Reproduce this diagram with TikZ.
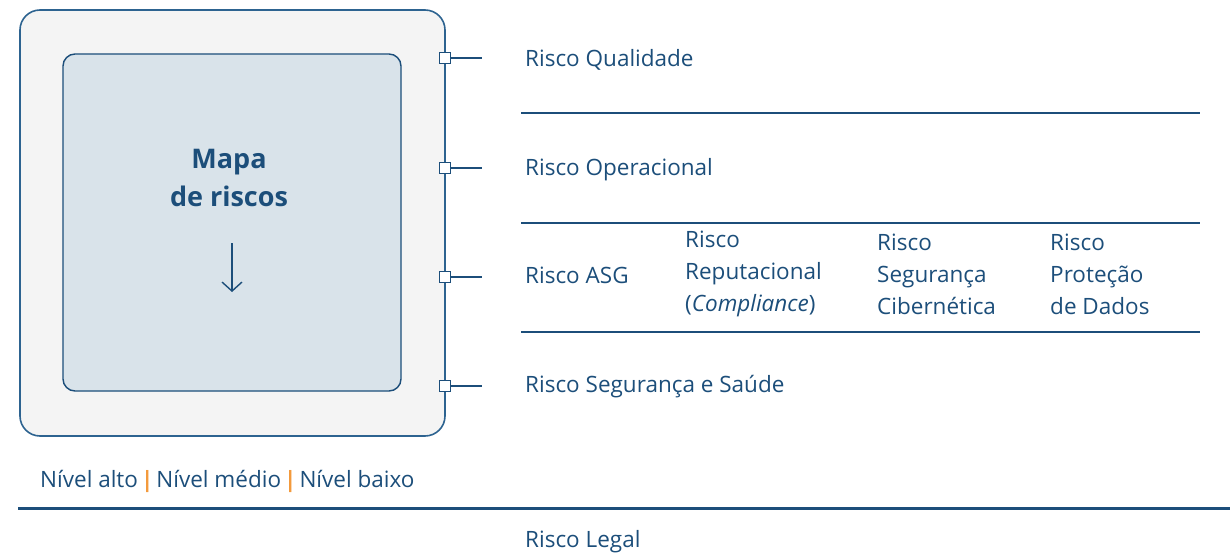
\documentclass[tikz,border=0pt]{standalone}
\usepackage{fontspec}
\setmainfont{Open Sans}
\usetikzlibrary{arrows.meta}
\definecolor{navy}{HTML}{1C4E7A}
\definecolor{edge}{HTML}{2D6390}
\definecolor{outerfill}{HTML}{F4F4F4}
\definecolor{innerfill}{HTML}{D9E3EA}
\definecolor{sep}{HTML}{F39A3C}
\tikzset{
  lbl/.style={anchor=west, inner sep=0pt, text=navy, font=\fontsize{22.5}{32}\selectfont, align=left},
  port/.style={draw=navy, fill=white, line width=1.4pt, minimum size=11pt, inner sep=0pt},
  rule/.style={draw=navy, line width=1.2pt},
  stub/.style={draw=navy, line width=1.4pt},
}
\begin{document}
\begin{tikzpicture}[x=1pt,y=-1pt]
\useasboundingbox (0,0) rectangle (1230,553);
% boxes
\node[draw=edge, line width=1.6pt, fill=outerfill, rounded corners=20pt, minimum width=425pt, minimum height=426pt, inner sep=0pt] (outer) at (232.5,223) {};
\node[draw=navy, line width=1.4pt, fill=innerfill, rounded corners=12pt, minimum width=338pt, minimum height=337pt, inner sep=0pt] (inner) at (232,222.5) {};
\node[text=navy, font=\bfseries\fontsize{27}{38}\selectfont, align=center, inner sep=0pt] (title) at (229,178) {Mapa\\de riscos};
\coordinate (atop) at (232,243);
\coordinate (abot) at (232,292);
\draw[navy, line width=1.4pt, -{Straight Barb[length=9pt,width=20pt,line width=1.4pt]}] (atop) -- (abot);
% ports
\foreach \n/\y in {q/58,o/168,a/277,s/386}{
  \coordinate (e\n) at (482,\y);
  \draw[stub] (445,\y) -- (e\n);
  \node[port] (p\n) at (445,\y) {};
}
% labels
\node[lbl] (lq) at (525,60) {Risco Qualidade};
\node[lbl] (lo) at (525,170) {Risco Operacional};
\node[lbl] (la) at (525,275) {Risco ASG};
\node[lbl] (lr) at (685,274) {Risco\\Reputacional\\(\textit{Compliance})};
\node[lbl] (lc) at (877,274) {Risco\\Segurança\\Cibernética};
\node[lbl] (lp) at (1050,274) {Risco\\Proteção\\de Dados};
\node[lbl] (ls) at (525,387) {Risco Segurança e Saúde};
\node[lbl] (ll) at (525,542) {Risco Legal};
\node[lbl] (lv) at (40,481) {Nível alto\hspace{3pt}{\color{sep}\textbf{|}}\hspace{3pt}Nível médio\hspace{3pt}{\color{sep}\textbf{|}}\hspace{3pt}Nível baixo};
% rules
\coordinate (r1a) at (521,113); \coordinate (r1b) at (1200,113);
\coordinate (r2a) at (521,223); \coordinate (r2b) at (1200,223);
\coordinate (r3a) at (521,332); \coordinate (r3b) at (1200,332);
\draw[rule] (r1a) -- (r1b);
\draw[rule] (r2a) -- (r2b);
\draw[rule] (r3a) -- (r3b);
\coordinate (ba) at (18,508); \coordinate (bb) at (1230,508);
\draw[navy, line width=3pt] (ba) -- (bb);
\end{tikzpicture}
\end{document}
